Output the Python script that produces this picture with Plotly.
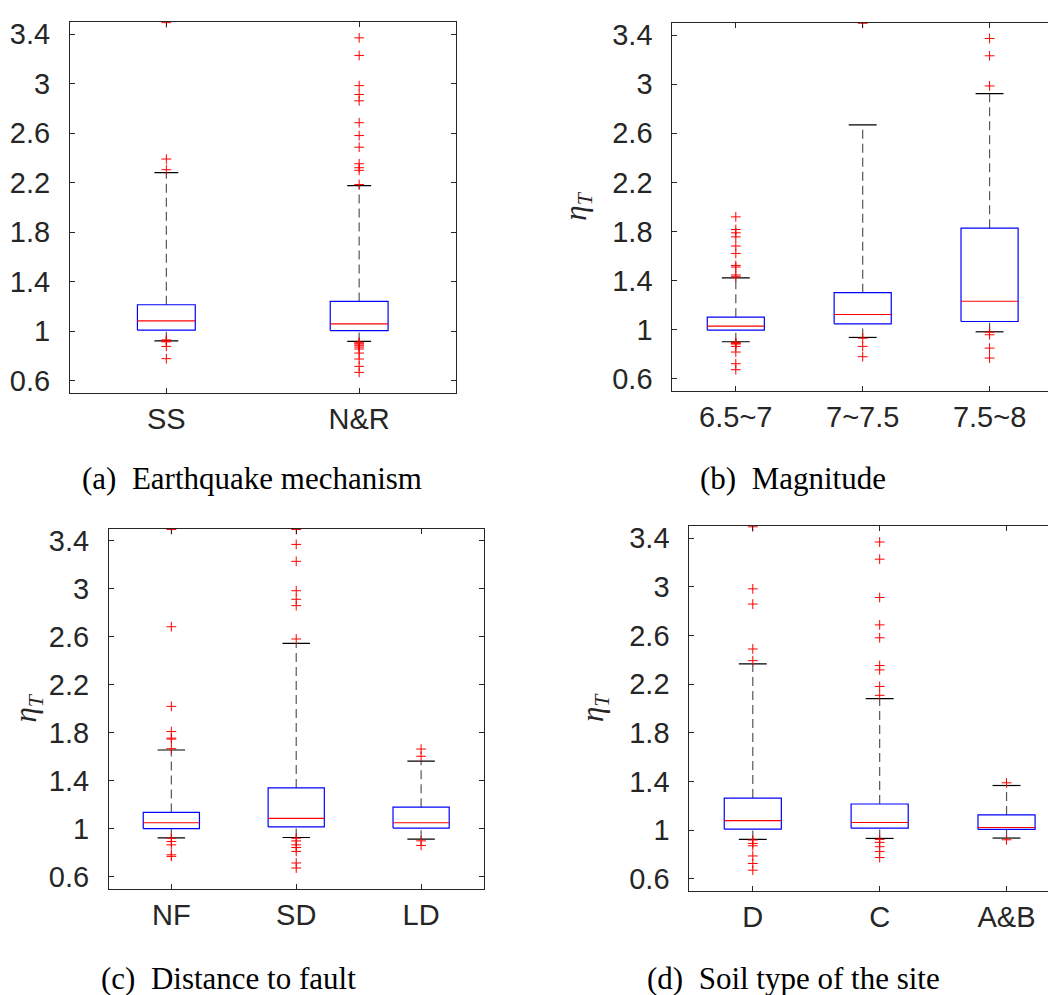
import plotly.graph_objects as go

# ---------------- data ----------------
# (a) Earthquake mechanism
a_cats = ["SS", "N&R"]
a_q1 = [1.007, 1.004]
a_med = [1.082, 1.058]
a_q3 = [1.213, 1.240]
a_lo = [0.921, 0.916]
a_hi = [2.281, 2.177]
a_out = [
    [3.494, 2.391, 2.305, 0.929, 0.913, 0.920, 0.876, 0.777],
    [3.371, 3.229, 2.985, 2.913, 2.862, 2.685, 2.581, 2.487, 2.353, 2.321, 2.300, 2.185,
     0.910, 0.903, 0.895, 0.882, 0.870, 0.855, 0.822, 0.774, 0.715, 0.666],
]

# (b) Magnitude
b_cats = ["6.5~7", "7~7.5", "7.5~8"]
b_q1 = [0.995, 1.047, 1.066]
b_med = [1.028, 1.123, 1.231]
b_q3 = [1.101, 1.301, 1.827]
b_lo = [0.901, 0.936, 0.982]
b_hi = [1.421, 2.669, 2.923]
b_out = [
    [1.919, 1.816, 1.789, 1.756, 1.681, 1.621, 1.523, 1.510, 1.445, 1.431,
     0.895, 0.888, 0.882, 0.863, 0.817, 0.722, 0.673],
    [3.497, 0.930, 0.863, 0.779],
    [3.373, 3.232, 2.986, 0.979, 0.958, 0.849, 0.768],
]

# (c) Distance to fault
c_cats = ["NF", "SD", "LD"]
c_q1 = [1.002, 1.016, 1.007]
c_med = [1.051, 1.087, 1.051]
c_q3 = [1.137, 1.341, 1.181]
c_lo = [0.925, 0.928, 0.914]
c_hi = [1.657, 2.546, 1.564]
c_out = [
    [3.494, 2.684, 2.021, 1.811, 1.756, 1.748, 1.668,
     0.922, 0.895, 0.867, 0.784, 0.771],
    [3.494, 3.370, 3.229, 2.984, 2.913, 2.860, 2.582,
     0.922, 0.900, 0.867, 0.845, 0.812, 0.716, 0.674],
    [1.665, 1.605, 0.900, 0.862],
]

# (d) Soil type of the site
d_cats = ["D", "C", "A&B"]
d_q1 = [1.007, 1.015, 1.005]
d_med = [1.078, 1.062, 1.021]
d_q3 = [1.263, 1.214, 1.124]
d_lo = [0.923, 0.931, 0.934]
d_hi = [2.365, 2.080, 1.366]
d_out = [
    [3.492, 2.982, 2.857, 2.488, 2.392,
     0.918, 0.890, 0.871, 0.787, 0.725, 0.670],
    [3.367, 3.226, 2.911, 2.686, 2.580, 2.352, 2.316, 2.180, 2.107,
     0.923, 0.899, 0.863, 0.823, 0.774],
    [1.388, 0.920],
]

captions = ["(a)\u00a0 Earthquake mechanism", "(b)\u00a0 Magnitude",
            "(c)\u00a0 Distance to fault", "(d)\u00a0 Soil type of the site"]

ytick_vals = [0.6, 1.0, 1.4, 1.8, 2.2, 2.6, 3.0, 3.4]
ytick_text = ["0.6", "1", "1.4", "1.8", "2.2", "2.6", "3", "3.4"]

# ---------------- layout geometry (pixels) ----------------
W, H = 1056, 995
panels = [
    (a_cats, a_q1, a_med, a_q3, a_lo, a_hi, a_out, 0.15, 0.062, (62, 448), (10, 384), [0.5, 2.5], False),
    (b_cats, b_q1, b_med, b_q3, b_lo, b_hi, b_out, 0.225, 0.11, (665, 1046), (11, 382), [0.5, 3.5], True),
    (c_cats, c_q1, c_med, c_q3, c_lo, c_hi, c_out, 0.225, 0.11, (101, 476), (521, 884), [0.5, 3.5], True),
    (d_cats, d_q1, d_med, d_q3, d_lo, d_hi, d_out, 0.225, 0.11, (682, 1056), (518, 886), [0.5, 3.445], True),
]
cap_pos = [(244, 470), (786, 470), (221, 974), (786, 974)]

fig = go.Figure()
AX = "#262626"
TICKFONT = dict(family="Liberation Sans, Arial, sans-serif", size=29, color=AX)

for i, (cats, q1, med, q3, lo, hi, out, bw, cw, xp, yp, xr, ylab) in enumerate(panels):
    xa = "x" if i == 0 else f"x{i+1}"
    ya = "y" if i == 0 else f"y{i+1}"
    pos = list(range(1, len(cats) + 1))

    # whiskers (dashed)
    wx, wy = [], []
    for p, a, b, c, d in zip(pos, lo, q1, q3, hi):
        wx += [p, p, None, p, p, None]
        wy += [c, d, None, a, b, None]
    fig.add_trace(go.Scatter(x=wx, y=wy, xaxis=xa, yaxis=ya, mode="lines",
                             line=dict(color="#555555", width=1.2, dash="9px,5px"),
                             hoverinfo="skip", showlegend=False))
    # caps
    cx, cy = [], []
    for p, a, d in zip(pos, lo, hi):
        cx += [p - cw, p + cw, None, p - cw, p + cw, None]
        cy += [d, d, None, a, a, None]
    fig.add_trace(go.Scatter(x=cx, y=cy, xaxis=xa, yaxis=ya, mode="lines",
                             line=dict(color="black", width=1.2),
                             hoverinfo="skip", showlegend=False))
    # boxes
    bx, by = [], []
    for p, b, c in zip(pos, q1, q3):
        bx += [p - bw, p + bw, p + bw, p - bw, p - bw, None]
        by += [b, b, c, c, b, None]
    fig.add_trace(go.Scatter(x=bx, y=by, xaxis=xa, yaxis=ya, mode="lines",
                             line=dict(color="#0000ff", width=1.2),
                             hoverinfo="skip", showlegend=False))
    # medians
    mx, my = [], []
    for p, m in zip(pos, med):
        mx += [p - bw, p + bw, None]
        my += [m, m, None]
    fig.add_trace(go.Scatter(x=mx, y=my, xaxis=xa, yaxis=ya, mode="lines",
                             line=dict(color="#ff0000", width=1.2),
                             hoverinfo="skip", showlegend=False))
    # outliers
    ox, oy = [], []
    for p, vals in zip(pos, out):
        ox += [p] * len(vals)
        oy += vals
    fig.add_trace(go.Scatter(x=ox, y=oy, xaxis=xa, yaxis=ya, mode="markers",
                             marker=dict(symbol="cross-thin", size=7,
                                         line=dict(color="#ff0000", width=1)),
                             hoverinfo="skip", showlegend=False))

    xkey = "xaxis" if i == 0 else f"xaxis{i+1}"
    ykey = "yaxis" if i == 0 else f"yaxis{i+1}"
    fig.layout[xkey] = dict(
        domain=[xp[0] / W, xp[1] / W], anchor=ya, range=xr,
        tickvals=pos, ticktext=cats, ticks="inside", ticklen=5, tickcolor=AX,
        showline=True, linecolor=AX, linewidth=1, mirror="allticks",
        showgrid=False, zeroline=False, tickfont=TICKFONT, ticklabelstandoff=0,
    )
    ydict = dict(
        domain=[1 - yp[1] / H, 1 - yp[0] / H], anchor=xa, range=[0.5, 3.5],
        tickvals=ytick_vals, ticktext=ytick_text, ticks="inside", ticklen=5, tickcolor=AX,
        showline=True, linecolor=AX, linewidth=1, mirror="allticks",
        showgrid=False, zeroline=False, tickfont=TICKFONT, ticklabelstandoff=13,
    )
    if ylab:
        ydict["title"] = dict(text="<i>η</i><sub><i>T</i></sub>",
                              font=dict(family="Liberation Serif, Times New Roman, serif",
                                        size=31, color=AX),
                              standoff=16)
    fig.layout[ykey] = ydict

for txt, (cx_, cy_) in zip(captions, cap_pos):
    fig.add_annotation(text=txt, x=cx_ / W, y=1 - cy_ / H, xref="paper", yref="paper",
                       showarrow=False, xanchor="center", yanchor="middle",
                       font=dict(family="Liberation Serif, Times New Roman, serif",
                                 size=31, color="black"))

fig.update_layout(width=W, height=H, margin=dict(l=0, r=0, t=0, b=0),
                  paper_bgcolor="white", plot_bgcolor="white", showlegend=False)

fig.write_html("out.html")
